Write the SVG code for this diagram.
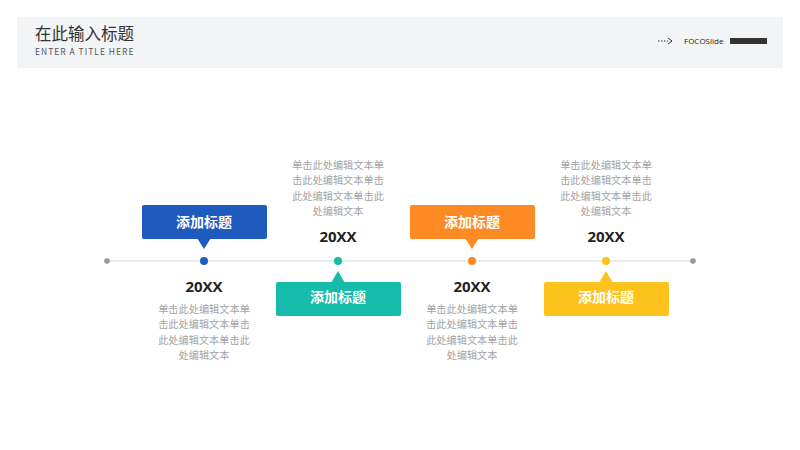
<svg xmlns="http://www.w3.org/2000/svg" width="800" height="450" viewBox="0 0 800 450">
<style>
.hd{font-family:"Noto Sans CJK SC","Noto Sans",sans-serif}
.lbl{font-family:"Noto Sans CJK SC",sans-serif;font-size:14px;font-weight:bold;fill:#fff;text-anchor:middle}
.yr{font-family:"Open Sans","Noto Sans",sans-serif;font-size:15px;font-weight:bold;fill:#222;text-anchor:middle}
.ds{font-family:"Noto Sans CJK SC",sans-serif;font-size:10.2px;fill:#a3a3a3;text-anchor:middle}
</style>
<rect width="800" height="450" fill="#fff"/>
<rect x="17" y="17" width="766" height="51" fill="#f3f4f6"/>
<text class="hd" x="35" y="40" font-size="16.5" fill="#333">在此输入标题</text>
<text class="hd" x="35" y="54.5" font-size="8.5" fill="#555" letter-spacing="1">ENTER A TITLE HERE</text>
<g fill="none" stroke="#333" stroke-width="1">
<line x1="658" y1="41" x2="668" y2="41" stroke-dasharray="1.5,1.5"/>
<polyline points="668,38 672,41 668,44"/>
</g>
<text x="684" y="44" font-family="Open Sans, sans-serif" font-size="8" fill="#222">FOCOSlide</text>
<rect x="730" y="38" width="37" height="6" fill="#333"/>
<g id="connectors">
<line x1="107" y1="261" x2="693" y2="261" stroke="#d9d9d9" stroke-width="1"/>
<circle cx="107" cy="261" r="2.8" fill="#999"/>
<circle cx="693" cy="261" r="2.8" fill="#999"/>
</g>
<g id="n1">
<circle cx="204" cy="261" r="4" fill="#1f5bbf"/>
<rect x="142" y="205" width="125" height="34" rx="2" fill="#1f5bbf"/>
<polygon points="197,238 211,238 204,249" fill="#1f5bbf"/>
<text class="lbl" x="204" y="227">添加标题</text>
<text class="yr" x="204" y="292">20XX</text>
<text class="ds" x="204" y="312.5">单击此处编辑文本单</text>
<text class="ds" x="204" y="328">击此处编辑文本单击</text>
<text class="ds" x="204" y="343.5">此处编辑文本单击此</text>
<text class="ds" x="204" y="359">处编辑文本</text>
</g>
<g id="n2">
<circle cx="338" cy="261" r="4" fill="#15bca9"/>
<rect x="276" y="282" width="125" height="34" rx="2" fill="#15bca9"/>
<polygon points="331,283 345,283 338,271" fill="#15bca9"/>
<text class="lbl" x="338" y="302">添加标题</text>
<text class="yr" x="338" y="242">20XX</text>
<text class="ds" x="338" y="168.5">单击此处编辑文本单</text>
<text class="ds" x="338" y="184">击此处编辑文本单击</text>
<text class="ds" x="338" y="199.5">此处编辑文本单击此</text>
<text class="ds" x="338" y="215">处编辑文本</text>
</g>
<g id="n3">
<circle cx="472" cy="261" r="4" fill="#fd8a22"/>
<rect x="410" y="205" width="125" height="34" rx="2" fill="#fd8a22"/>
<polygon points="465,238 479,238 472,249" fill="#fd8a22"/>
<text class="lbl" x="472" y="227">添加标题</text>
<text class="yr" x="472" y="292">20XX</text>
<text class="ds" x="472" y="312.5">单击此处编辑文本单</text>
<text class="ds" x="472" y="328">击此处编辑文本单击</text>
<text class="ds" x="472" y="343.5">此处编辑文本单击此</text>
<text class="ds" x="472" y="359">处编辑文本</text>
</g>
<g id="n4">
<circle cx="606" cy="261" r="4" fill="#fec21d"/>
<rect x="544" y="282" width="125" height="34" rx="2" fill="#fec21d"/>
<polygon points="599,283 613,283 606,271" fill="#fec21d"/>
<text class="lbl" x="606" y="302">添加标题</text>
<text class="yr" x="606" y="242">20XX</text>
<text class="ds" x="606" y="168.5">单击此处编辑文本单</text>
<text class="ds" x="606" y="184">击此处编辑文本单击</text>
<text class="ds" x="606" y="199.5">此处编辑文本单击此</text>
<text class="ds" x="606" y="215">处编辑文本</text>
</g>
</svg>
